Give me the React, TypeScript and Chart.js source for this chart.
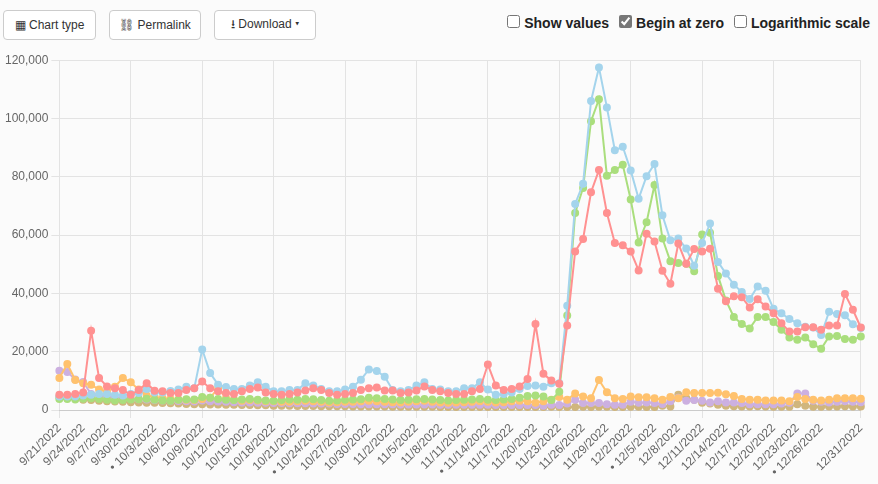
import React, { useEffect, useRef } from "react";
import { Chart, registerables } from "chart.js";
Chart.register(...registerables);

const start = new Date(2022, 8, 21);
const labels: string[] = [];
for (let i = 0; i < 102; i++) {
  const d = new Date(start.getTime() + i * 86400000 + 3600000 * 3);
  labels.push(`${d.getMonth() + 1}/${d.getDate()}/${d.getFullYear()}`);
}
const bullets = ["10/3/2022", "10/24/2022", "11/14/2022", "12/5/2022", "12/26/2022"];

const red = [5200,5200,5500,6000,27200,11000,8100,7500,6900,5200,6900,9200,6600,6400,5800,5800,6900,7500,9800,7500,6400,5800,5500,6400,7200,7700,6000,5500,5200,5500,6000,6700,7500,6900,5800,5200,5500,5800,6900,7500,7700,6700,6700,5800,6000,6700,8100,6900,6400,5800,5500,5500,6400,7200,15600,8400,6900,7200,8100,10600,29500,12400,10100,9000,29000,54400,58700,74700,82300,67600,57300,56500,54400,47900,60500,57800,47800,43300,57100,50200,55200,54400,55300,41600,37300,39000,38700,35200,38000,35500,33200,29800,26900,26900,28400,28400,27500,29000,29000,39800,34400,28300];
const blue = [4600,4600,4600,5000,5200,5500,5500,5200,5000,5500,5800,7200,6000,6000,6500,7000,8000,7500,20800,12700,8700,7900,7200,7200,8400,9500,8000,6400,6400,6900,6900,9200,8400,7200,6400,6400,7000,8000,10400,13900,13400,11400,6900,6400,6900,8400,9500,7200,7000,6400,6400,7500,7500,9500,7000,5200,5500,6000,7200,8200,8400,8000,9200,9200,35800,70700,77600,106000,117500,103800,89100,90300,82200,72500,80200,84400,66800,58200,58800,55400,49500,57300,64000,50800,46800,43000,40500,38100,42400,40900,34700,33200,31200,29800,28600,28300,25700,33700,32900,32500,29400,28100];
const green = [3800,3800,3600,3900,4000,3800,3500,3300,3400,3600,3700,3900,3500,3300,3200,3500,3700,3600,4500,4200,3800,3500,3400,3600,3800,3500,3300,3200,3400,3600,3500,3800,3700,3400,3200,3300,3500,3600,3700,4200,4000,3800,3600,3400,3500,3700,3800,3600,3400,3300,3400,3500,3600,3800,3500,3400,3600,3800,4200,4800,5000,4600,3400,6300,32400,67600,76200,99100,106600,80400,82300,84100,72200,57500,64400,77200,58800,51000,50400,50200,47600,60200,60800,46000,37600,31900,29500,28000,31900,31900,30200,27500,24900,24100,24900,22600,21000,25200,25400,24400,24100,25200];
const orange = [11000,15800,10300,9200,8700,7000,6400,8000,11000,9500,7000,5000,4500,4000,3800,3600,3500,3400,3800,4200,7500,4000,3500,3200,3400,3300,3000,3000,2800,2800,3000,3200,3000,2800,2600,2700,2800,2800,3000,3200,3000,2800,2700,2600,2800,3000,3200,2800,2600,2500,2600,2700,2800,3000,2800,2600,2700,3000,3200,3000,2500,3000,3500,4500,3500,5700,4600,4000,10300,6100,4000,3800,4600,4400,4400,4000,3500,4500,4000,6100,5800,5800,5800,5900,5400,4800,3800,3500,3500,3300,3300,3300,3000,4500,3800,3500,3300,3500,4000,4000,4000,3900];
const purple = [13500,13000,10500,9600,5500,5000,4500,4200,4000,3800,3700,3600,3400,3300,3200,3100,3000,2900,3300,3000,2900,2800,2700,2600,2600,2500,2500,2400,2400,2300,2300,2300,2200,2200,2200,2100,2100,2100,2000,2000,2000,2000,2000,1900,1900,1900,1900,1900,1800,1800,1800,1800,1800,1800,1800,1700,1700,1700,1700,1700,1700,1500,1800,1700,2200,3500,2400,2400,2400,2000,1800,1800,2800,2500,2600,2400,2100,3000,4200,3200,3400,3200,2600,3000,2600,2600,2400,2000,2000,2000,2000,2200,2500,5700,5700,3200,2800,2600,2800,3000,2800,2700];
const tan = [4500,4800,4000,3500,3400,3200,3000,2900,2800,2700,2600,2500,2500,2400,2300,2200,2100,2000,2000,1900,1900,1800,1800,1700,1700,1600,1600,1500,1500,1500,1400,1400,1400,1300,1300,1300,1300,1200,1200,1200,1200,1200,1100,1100,1100,1100,1100,1100,1000,1000,1000,1000,1000,1000,1000,1000,1000,1000,1000,1000,1000,1000,1100,1000,1000,1000,1100,1000,1100,1100,1000,1000,1100,1100,1000,1000,1500,1200,5200,4000,3500,2500,2200,1800,1500,1300,1200,1200,1300,1200,1100,1100,1100,2000,1500,1100,1100,1200,1200,1300,1200,1200];

const series = [
  { name: "A", data: red, color: "rgb(255,145,145)" },
  { name: "B", data: blue, color: "rgb(164,212,236)" },
  { name: "C", data: green, color: "rgb(170,222,125)" },
  { name: "D", data: orange, color: "rgb(255,194,110)" },
  { name: "E", data: purple, color: "rgb(204,176,224)" },
  { name: "F", data: tan, color: "rgb(208,182,125)" },
];

const shown = (i: number) => (i % 3 === 0 && i !== 99) || i === labels.length - 1;

const btn: React.CSSProperties = {
  display: "inline-flex", alignItems: "center", justifyContent: "center", gap: 4, height: 30,
  border: "1px solid #ccc", borderRadius: 4, background: "#fff", fontSize: 12,
  color: "#333", marginRight: 13, boxSizing: "border-box", whiteSpace: "nowrap",
};

export default function App() {
  const ref = useRef<HTMLCanvasElement>(null);
  useEffect(() => {
    const chart = new Chart(ref.current!, {
      type: "line",
      data: {
        labels,
        datasets: series.map((s) => ({
          label: s.name, data: s.data, borderColor: s.color, backgroundColor: s.color,
          pointBackgroundColor: s.color, pointRadius: 3, borderWidth: 2, tension: 0,
        })),
      },
      options: {
        animation: false, responsive: false,
        layout: { padding: { right: 6 } },
        plugins: { legend: { display: false }, tooltip: { enabled: false } },
        scales: {
          y: {
            beginAtZero: true, max: 120000,
            ticks: { stepSize: 20000, color: "#666", font: { size: 12, family: "Arial, Liberation Sans" },
              callback: (v: any) => Number(v).toLocaleString("en-US") },
            grid: { color: "#e3e3e3" }, border: { display: false },
          },
          x: {
            ticks: {
              autoSkip: false, maxRotation: 45, minRotation: 45, color: "#666",
              font: { size: 12, family: "Arial, Liberation Sans" },
              callback: (_v: any, i: number) => shown(i) ? (bullets.includes(labels[i]) ? "• " + labels[i] : labels[i]) : null,
            },
            grid: { color: (c: any) => (shown(c.index) ? "#e3e3e3" : "rgba(0,0,0,0)") },
          },
        },
      },
    });
    return () => chart.destroy();
  }, []);
  return (
    <div style={{ fontFamily: "Arial, Liberation Sans, sans-serif", width: 878, height: 484, position: "fixed", top: 0, left: 0, background: "#fbfbfb" }}>
      <div style={{ position: "absolute", top: 10, left: 3, display: "flex" }}>
        <span style={{ ...btn, width: 93 }}>▦ Chart type</span>
        <span style={{ ...btn, width: 92 }}>⛓ Permalink</span>
        <span style={{ ...btn, width: 102 }}>⭳ Download ▾</span>
      </div>
      <div style={{ position: "absolute", top: 15, right: 8, display: "flex", gap: 10, fontSize: 14, fontWeight: "bold", color: "#222" }}>
        <label><input type="checkbox" style={{ margin: "0 4px 0 0" }} />Show values</label>
        <label><input type="checkbox" defaultChecked style={{ margin: "0 4px 0 0", accentColor: "#777" }} />Begin at zero</label>
        <label><input type="checkbox" style={{ margin: "0 4px 0 0" }} />Logarithmic scale</label>
      </div>
      <canvas ref={ref} width={872} height={432} style={{ position: "absolute", top: 50, left: 2 }} />
    </div>
  );
}
